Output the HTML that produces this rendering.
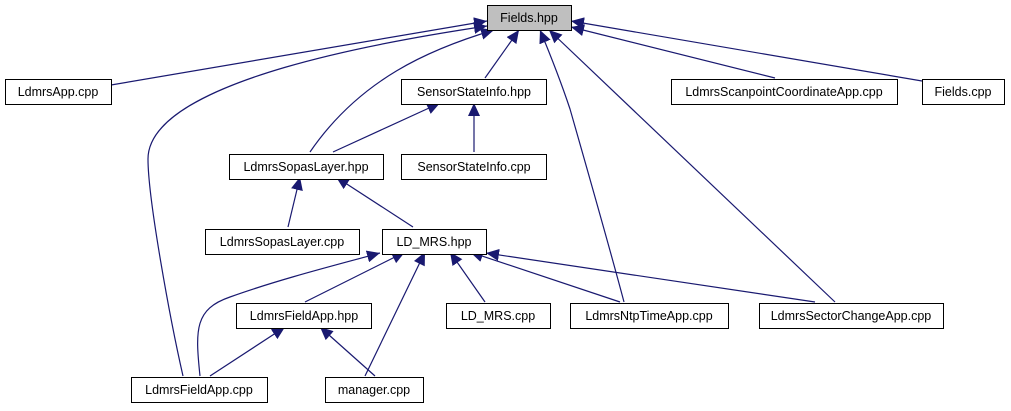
<!DOCTYPE html>
<html><head><style>
html,body{margin:0;padding:0;background:#fff;}
svg{display:block;}
text{font-family:"Liberation Sans",Helvetica,sans-serif;font-size:12.5px;text-anchor:middle;}
</style></head><body>
<svg width="1011" height="411" viewBox="0 0 1011 411">
<defs><marker id="a" markerWidth="14" markerHeight="12" refX="13" refY="6" orient="auto" markerUnits="userSpaceOnUse"><path d="M0,0 L13,6 L0,12 Z" fill="#191970"/></marker></defs>
<g transform="translate(0,-1)">
<g fill="none" stroke="#191970" stroke-width="1.2" marker-end="url(#a)">
<path d="M111,86 L487,22"/>
<path d="M183,377 C170,320 148,200 148,160 C148,80 400,40 487,27"/>
<path d="M310,153 C360,80 430,50 494,31"/>
<path d="M485,79 L519,31"/>
<path d="M624,303 C610,250 590,180 570,110 C560,80 550,55 540,31"/>
<path d="M835,303 L549,31"/>
<path d="M775,79 L571,28"/>
<path d="M922,82 L571,22"/>
<path d="M333,153 L440,104"/>
<path d="M474,153 L474,104"/>
<path d="M288,228 L300,178"/>
<path d="M413,228 L336,178"/>
<path d="M200,377 C195,330 195,310 230,298 C280,280 340,265 380,254"/>
<path d="M305,303 L405,253"/>
<path d="M365,377 L425,253"/>
<path d="M485,303 L450,253"/>
<path d="M620,303 L470,253"/>
<path d="M815,303 L486,254"/>
<path d="M210,377 L285,328"/>
<path d="M375,377 L320,328"/>
</g>
<g stroke="#000" stroke-width="1" fill="#fff">
<rect x="487.5" y="6.5" width="84" height="25" fill="#bfbfbf"/>
<rect x="5.5" y="80.5" width="106" height="25"/>
<rect x="401.5" y="80.5" width="145" height="25"/>
<rect x="671.5" y="80.5" width="226" height="25"/>
<rect x="922.5" y="80.5" width="82" height="25"/>
<rect x="229.5" y="155.5" width="154" height="25"/>
<rect x="401.5" y="155.5" width="145" height="25"/>
<rect x="205.5" y="230.5" width="154" height="25"/>
<rect x="382.5" y="230.5" width="104" height="25"/>
<rect x="236.5" y="304.5" width="135" height="25"/>
<rect x="446.5" y="304.5" width="104" height="25"/>
<rect x="570.5" y="304.5" width="158" height="25"/>
<rect x="759.5" y="304.5" width="184" height="25"/>
<rect x="131.5" y="378.5" width="136" height="25"/>
<rect x="325.5" y="378.5" width="98" height="25"/>
</g>
<g fill="#000">
<text x="529" y="23">Fields.hpp</text>
<text x="58" y="97">LdmrsApp.cpp</text>
<text x="474" y="97">SensorStateInfo.hpp</text>
<text x="784" y="97">LdmrsScanpointCoordinateApp.cpp</text>
<text x="963" y="97">Fields.cpp</text>
<text x="306" y="172">LdmrsSopasLayer.hpp</text>
<text x="474" y="172">SensorStateInfo.cpp</text>
<text x="282" y="247">LdmrsSopasLayer.cpp</text>
<text x="434" y="247">LD_MRS.hpp</text>
<text x="304" y="321">LdmrsFieldApp.hpp</text>
<text x="498" y="321">LD_MRS.cpp</text>
<text x="649" y="321">LdmrsNtpTimeApp.cpp</text>
<text x="851" y="321">LdmrsSectorChangeApp.cpp</text>
<text x="199" y="395">LdmrsFieldApp.cpp</text>
<text x="374" y="395">manager.cpp</text>
</g>
</g>
</svg>
</body></html>
